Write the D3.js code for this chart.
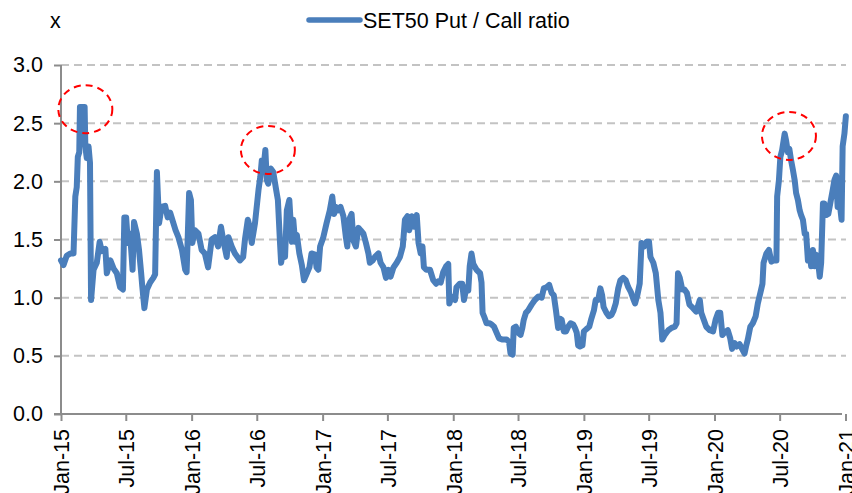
<!DOCTYPE html>
<html>
<head>
<meta charset="utf-8">
<script src="https://cdn.jsdelivr.net/npm/d3@7"></script>
<style>
  body { margin: 0; background: #fff; }
  #chart { width: 852px; height: 493px; }
  text { font-family: "Liberation Sans", Arial, sans-serif; fill: #000; }
</style>
</head>
<body>
<div id="chart"></div>
<script>

// SET50 put/call ratio (date, ratio)
const pc2015 = [
  ["2015-01-01",1.32],["2015-01-08",1.28],["2015-01-17",1.36],["2015-01-27",1.38],["2015-02-05",1.38],
  ["2015-02-10",1.87],["2015-02-14",1.95],["2015-02-17",2.21],["2015-02-21",2.25],["2015-02-23",2.64],
  ["2015-03-08",2.64],["2015-03-10",2.30],["2015-03-14",2.20],["2015-03-19",2.30],["2015-03-23",2.16],
  ["2015-03-26",0.98],["2015-04-02",1.24],["2015-04-11",1.30],["2015-04-19",1.48],["2015-04-25",1.40],
  ["2015-05-05",1.42],["2015-05-09",1.21],["2015-05-19",1.32],["2015-05-28",1.25],["2015-06-06",1.21],
  ["2015-06-15",1.09],["2015-06-23",1.07],["2015-06-27",1.69],["2015-07-02",1.69],["2015-07-07",1.47],
  ["2015-07-13",1.55],["2015-07-20",1.24],["2015-07-24",1.65],["2015-08-01",1.55],["2015-08-07",1.41],
  ["2015-08-13",1.21],["2015-08-16",1.10],["2015-08-22",0.91],["2015-08-29",1.07],["2015-09-07",1.13],
  ["2015-09-16",1.17],["2015-09-21",1.20],["2015-09-26",2.08],["2015-10-02",1.64],["2015-10-09",1.78],
  ["2015-10-19",1.79],["2015-10-26",1.69],["2015-11-02",1.73],["2015-11-11",1.64],["2015-11-17",1.58],
  ["2015-11-25",1.52],["2015-12-05",1.41],["2015-12-14",1.24],["2015-12-18",1.22],["2015-12-25",1.90],
  ["2015-12-30",1.84]
];
const pc2016 = [
  ["2016-01-03",1.47],["2016-01-10",1.58],["2016-01-20",1.55],["2016-01-29",1.41],["2016-02-07",1.38],
  ["2016-02-16",1.26],["2016-02-26",1.50],["2016-03-06",1.52],["2016-03-15",1.44],["2016-03-23",1.61],
  ["2016-03-29",1.50],["2016-04-08",1.35],["2016-04-13",1.52],["2016-04-22",1.44],["2016-05-01",1.38],
  ["2016-05-15",1.32],["2016-05-24",1.35],["2016-05-29",1.50],["2016-06-06",1.67],["2016-06-12",1.60],
  ["2016-06-17",1.47],["2016-06-26",1.64],["2016-07-06",1.93],["2016-07-11",2.04],["2016-07-15",2.18],
  ["2016-07-20",2.12],["2016-07-25",2.27],["2016-07-29",2.01],["2016-08-02",1.98],["2016-08-09",2.11],
  ["2016-08-16",2.08],["2016-08-24",1.93],["2016-08-29",1.84],["2016-09-04",1.47],["2016-09-07",1.30],
  ["2016-09-13",1.41],["2016-09-18",1.35],["2016-09-23",1.75],["2016-09-30",1.84],["2016-10-07",1.48],
  ["2016-10-11",1.67],["2016-10-16",1.48],["2016-10-21",1.54],["2016-10-28",1.38],["2016-11-04",1.28],
  ["2016-11-10",1.15],["2016-11-18",1.21],["2016-11-25",1.26],["2016-12-01",1.38],["2016-12-11",1.37],
  ["2016-12-15",1.26],["2016-12-20",1.24],["2016-12-25",1.44]
];
const pc2017 = [
  ["2017-01-03",1.52],["2017-01-12",1.64],["2017-01-21",1.75],["2017-01-28",1.87],["2017-02-02",1.72],
  ["2017-02-07",1.78],["2017-02-14",1.75],["2017-02-20",1.78],["2017-02-28",1.70],["2017-03-07",1.52],
  ["2017-03-11",1.44],["2017-03-16",1.67],["2017-03-23",1.72],["2017-03-28",1.49],["2017-04-04",1.44],
  ["2017-04-11",1.60],["2017-04-17",1.58],["2017-04-25",1.55],["2017-05-02",1.47],["2017-05-09",1.38],
  ["2017-05-13",1.30],["2017-05-21",1.32],["2017-05-27",1.35],["2017-06-06",1.38],["2017-06-12",1.30],
  ["2017-06-20",1.26],["2017-06-27",1.17],["2017-07-04",1.24],["2017-07-10",1.18],["2017-07-18",1.26],
  ["2017-07-27",1.30],["2017-08-05",1.35],["2017-08-13",1.44],["2017-08-19",1.67],["2017-08-26",1.70],
  ["2017-08-31",1.58],["2017-09-07",1.70],["2017-09-14",1.61],["2017-09-21",1.71],["2017-09-26",1.47],
  ["2017-10-02",1.38],["2017-10-07",1.44],["2017-10-11",1.26],["2017-10-18",1.24],["2017-10-28",1.24],
  ["2017-11-06",1.15],["2017-11-14",1.12],["2017-11-20",1.14],["2017-11-27",1.13],["2017-12-04",1.22],
  ["2017-12-12",1.27],["2017-12-18",1.29],["2017-12-21",0.95],["2017-12-28",1.01]
];
const pc2018 = [
  ["2018-01-06",0.98],["2018-01-10",1.09],["2018-01-19",1.12],["2018-01-26",1.12],["2018-01-31",0.98],
  ["2018-02-07",1.09],["2018-02-12",1.06],["2018-02-16",1.27],["2018-02-21",1.38],["2018-02-26",1.29],
  ["2018-03-07",1.24],["2018-03-17",1.21],["2018-03-21",1.13],["2018-03-24",0.87],["2018-03-28",0.84],
  ["2018-04-04",0.78],["2018-04-12",0.78],["2018-04-18",0.77],["2018-04-25",0.75],["2018-05-02",0.70],
  ["2018-05-09",0.65],["2018-05-19",0.64],["2018-05-30",0.64],["2018-06-06",0.62],["2018-06-10",0.52],
  ["2018-06-16",0.51],["2018-06-19",0.74],["2018-06-25",0.75],["2018-07-01",0.70],["2018-07-08",0.68],
  ["2018-07-13",0.74],["2018-07-17",0.81],["2018-07-23",0.87],["2018-07-29",0.89],["2018-08-08",0.94],
  ["2018-08-17",0.98],["2018-08-27",1.01],["2018-09-05",1.00],["2018-09-11",1.08],["2018-09-19",1.09],
  ["2018-09-26",1.11],["2018-10-03",1.04],["2018-10-09",1.02],["2018-10-15",0.89],["2018-10-21",0.74],
  ["2018-10-26",0.82],["2018-10-31",0.81],["2018-11-06",0.71],["2018-11-12",0.71],["2018-11-18",0.75],
  ["2018-11-25",0.78],["2018-12-02",0.77],["2018-12-07",0.74],["2018-12-12",0.70],["2018-12-16",0.59],
  ["2018-12-21",0.58],["2018-12-28",0.59]
];
const pc2019 = [
  ["2019-01-01",0.71],["2019-01-08",0.73],["2019-01-16",0.75],["2019-01-22",0.82],["2019-01-29",0.89],
  ["2019-02-03",0.98],["2019-02-10",0.98],["2019-02-16",1.08],["2019-02-21",1.02],["2019-02-25",0.92],
  ["2019-03-05",0.87],["2019-03-12",0.84],["2019-03-19",0.85],["2019-03-25",0.89],["2019-03-31",0.95],
  ["2019-04-07",1.08],["2019-04-13",1.15],["2019-04-21",1.17],["2019-04-28",1.15],["2019-05-05",1.09],
  ["2019-05-12",1.05],["2019-05-19",0.99],["2019-05-24",0.95],["2019-05-31",1.03],["2019-06-06",1.12],
  ["2019-06-11",1.47],["2019-06-18",1.44],["2019-06-25",1.48],["2019-07-02",1.48],["2019-07-06",1.35],
  ["2019-07-14",1.30],["2019-07-21",1.21],["2019-07-28",0.98],["2019-08-03",0.87],["2019-08-08",0.64],
  ["2019-08-15",0.68],["2019-08-25",0.72],["2019-09-03",0.74],["2019-09-12",0.75],["2019-09-17",0.78],
  ["2019-09-21",1.21],["2019-09-26",1.17],["2019-10-03",1.07],["2019-10-09",1.07],["2019-10-16",1.04],
  ["2019-10-23",0.94],["2019-11-02",0.91],["2019-11-11",0.88],["2019-11-21",0.98],["2019-11-25",0.87],
  ["2019-12-02",0.81],["2019-12-09",0.75],["2019-12-19",0.72],["2019-12-28",0.71]
];
const pc2020 = [
  ["2020-01-04",0.81],["2020-01-11",0.87],["2020-01-17",0.87],["2020-01-23",0.68],["2020-01-29",0.70],
  ["2020-02-07",0.72],["2020-02-14",0.65],["2020-02-19",0.56],["2020-02-26",0.61],["2020-03-03",0.58],
  ["2020-03-11",0.60],["2020-03-18",0.56],["2020-03-25",0.52],["2020-03-29",0.58],["2020-04-03",0.64],
  ["2020-04-10",0.75],["2020-04-17",0.78],["2020-04-25",0.84],["2020-05-01",0.95],["2020-05-08",1.04],
  ["2020-05-14",1.12],["2020-05-17",1.30],["2020-05-25",1.38],["2020-06-01",1.41],["2020-06-08",1.31],
  ["2020-06-14",1.32],["2020-06-22",1.32],["2020-06-24",1.87],["2020-06-29",2.01],["2020-07-03",2.21],
  ["2020-07-08",2.27],["2020-07-15",2.41],["2020-07-19",2.35],["2020-07-24",2.25],["2020-07-28",2.28],
  ["2020-08-02",2.18],["2020-08-07",2.10],["2020-08-12",2.01],["2020-08-16",1.90],["2020-08-21",1.84],
  ["2020-08-26",1.75],["2020-08-30",1.71],["2020-09-04",1.67],["2020-09-09",1.55],["2020-09-13",1.55],
  ["2020-09-18",1.32],["2020-09-23",1.38],["2020-09-27",1.27],["2020-10-02",1.41],["2020-10-07",1.27],
  ["2020-10-11",1.37],["2020-10-16",1.32],["2020-10-21",1.18],["2020-10-25",1.30],["2020-10-30",1.81],
  ["2020-11-03",1.81],["2020-11-08",1.71],["2020-11-14",1.72],["2020-11-20",1.82],["2020-11-26",1.92],
  ["2020-12-01",2.01],["2020-12-06",2.05],["2020-12-10",1.78],["2020-12-17",1.78],["2020-12-21",1.67],
  ["2020-12-24",2.30],["2020-12-29",2.41],["2021-01-02",2.56]
];

const yTicks = [0, 0.5, 1.0, 1.5, 2.0, 2.5, 3.0];
const xTicks = ["2015-01-01","2015-07-01","2016-01-01","2016-07-01","2017-01-01","2017-07-01",
                "2018-01-01","2018-07-01","2019-01-01","2019-07-01","2020-01-01","2020-07-01","2021-01-01"];

// peaks circled in red
const highlights = [["2015-03-10", 2.62], ["2016-08-01", 2.27], ["2020-07-27", 2.39]];

const legendLabel = "SET50 Put / Call ratio";
const unitLabel = "x";

let parseDate = d3.timeParse("%Y-%m-%d");
let fmtTick = d3.timeFormat("%b-%y");

let data = [].concat(pc2015, pc2016, pc2017, pc2018, pc2019, pc2020)
  .map(function(d){ return {date: parseDate(d[0]), value: d[1]}; });

let outerWidth = 852, outerHeight = 493;
let margin = {top: 65, left: 61, right: 6, bottom: 79};
let width = outerWidth - margin.left - margin.right;
let height = outerHeight - margin.top - margin.bottom;

let svg = d3.select("#chart").append("svg")
  .attr("width", outerWidth)
  .attr("height", outerHeight);

let g = svg.append("g")
  .attr("transform", `translate(${margin.left}, ${margin.top})`);

let x = d3.scaleTime()
  .domain([parseDate("2015-01-01"), parseDate("2021-01-01")])
  .range([0, 784.5]);

let y = d3.scaleLinear()
  .domain([0, 3])
  .range([height, 0]);

const fontSize = "21.5px";
const axisColor = "#8c8c8c";
const lineColor = "#4a7ebb";

// gridlines
g.append("g").selectAll("line")
  .data(yTicks.filter(function(d){ return d > 0; }))
  .join("line")
  .attr("x1", 0)
  .attr("x2", width)
  .attr("y1", function(d){ return y(d); })
  .attr("y2", function(d){ return y(d); })
  .attr("stroke", "#c3c3c3")
  .attr("stroke-width", 2)
  .attr("stroke-dasharray", "8,5");

// y axis
let yAxis = d3.axisLeft(y)
  .tickValues(yTicks)
  .tickFormat(d3.format(".1f"))
  .tickSize(7)
  .tickPadding(11);

let gy = g.append("g").call(yAxis);
gy.select(".domain").remove();
gy.selectAll(".tick line").attr("stroke", axisColor).attr("stroke-width", 2);
gy.selectAll(".tick text").style("font-size", fontSize).attr("fill", "#000");
g.append("line")
  .attr("x1", 0).attr("x2", 0)
  .attr("y1", 0).attr("y2", height)
  .attr("stroke", axisColor).attr("stroke-width", 2);

// x axis
let xAxis = d3.axisBottom(x)
  .tickValues(xTicks.map(parseDate))
  .tickFormat(fmtTick)
  .tickSize(7);

let gx = g.append("g")
  .attr("transform", `translate(0, ${height})`)
  .call(xAxis);
gx.select(".domain").remove();
gx.selectAll(".tick line").attr("stroke", axisColor).attr("stroke-width", 2);
gx.selectAll(".tick text")
  .style("font-size", fontSize)
  .attr("fill", "#000")
  .attr("text-anchor", "end")
  .attr("transform", "rotate(-90)")
  .attr("x", -15)
  .attr("y", 0)
  .attr("dy", "0.36em");
g.append("line")
  .attr("x1", -7).attr("x2", width - 4)
  .attr("y1", height).attr("y2", height)
  .attr("stroke", axisColor).attr("stroke-width", 2);

// the series
let line = d3.line()
  .x(function(d){ return x(d.date); })
  .y(function(d){ return y(d.value); });

g.append("path")
  .datum(data)
  .attr("fill", "none")
  .attr("stroke", lineColor)
  .attr("stroke-width", 6)
  .attr("stroke-linejoin", "round")
  .attr("stroke-linecap", "round")
  .attr("d", line);

// red dashed circles on the peaks
g.append("g").selectAll("ellipse")
  .data(highlights)
  .join("ellipse")
  .attr("cx", function(d){ return x(parseDate(d[0])); })
  .attr("cy", function(d){ return y(d[1]); })
  .attr("rx", 27)
  .attr("ry", 24)
  .attr("fill", "none")
  .attr("stroke", "#ff0000")
  .attr("stroke-width", 2)
  .attr("stroke-dasharray", "7,5");

// unit label
svg.append("text")
  .attr("x", 50)
  .attr("y", 28)
  .style("font-size", fontSize)
  .text(unitLabel);

// legend
let legend = svg.append("g").attr("transform", "translate(309, 20)");
legend.append("line")
  .attr("x1", 0).attr("x2", 51)
  .attr("y1", 0).attr("y2", 0)
  .attr("stroke", lineColor)
  .attr("stroke-width", 5.5)
  .attr("stroke-linecap", "round");
legend.append("text")
  .attr("x", 54)
  .attr("y", 7.5)
  .style("font-size", fontSize)
  .text(legendLabel);

</script>
</body>
</html>
